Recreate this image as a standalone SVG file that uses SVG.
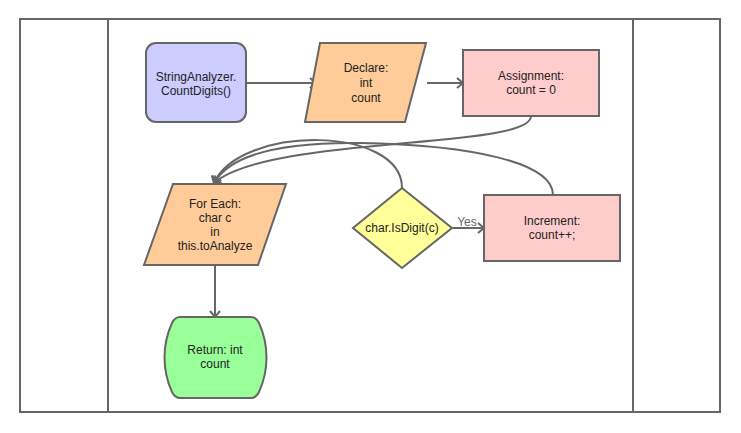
<svg xmlns="http://www.w3.org/2000/svg" width="741" height="433" viewBox="0 0 741 433">
<defs>
<marker id="arr" markerWidth="12" markerHeight="12" refX="9" refY="6" orient="auto" markerUnits="userSpaceOnUse">
<polyline points="3,1 9,6 3,11" fill="none" stroke="#666" stroke-width="2"/>
</marker>
<style>
.n{stroke:#666;stroke-width:2}
.t{font-family:"Liberation Sans",Arial,sans-serif;font-size:12px;fill:#222;text-anchor:middle}
.c{fill:none;stroke:#666;stroke-width:2}
</style>
</defs>
<rect width="741" height="433" fill="#fff"/>
<g id="lanes" fill="none" stroke="#666" stroke-width="2">
<rect x="20" y="19" width="700" height="393"/>
<line x1="108" y1="19" x2="108" y2="412"/>
<line x1="633" y1="19" x2="633" y2="412"/>
</g>
<g id="connectors">
<line class="c" x1="246" y1="83" x2="316" y2="83" marker-end="url(#arr)"/>
<line class="c" x1="427" y1="83" x2="463" y2="83" marker-end="url(#arr)"/>
<path class="c" d="M531,116 C531,150 270,135 214,183" marker-end="url(#arr)"/>
<path class="c" d="M402,188 C402,125 240,125 214,183" marker-end="url(#arr)"/>
<path class="c" d="M553,195 C553,162 470,145 360,143 C280,142 230,155 214,183" marker-end="url(#arr)"/>
<line class="c" x1="453" y1="228" x2="484" y2="228" marker-end="url(#arr)"/>
<text x="467" y="226" style="font-family:'Liberation Sans',Arial,sans-serif;font-size:12px;fill:#666;text-anchor:middle">Yes</text>
<line class="c" x1="215" y1="265" x2="215" y2="317" marker-end="url(#arr)"/>
</g>
<g id="start">
<rect class="n" x="146" y="43" width="100" height="79" rx="10" fill="#ccccff"/>
<text class="t" x="196" y="81">StringAnalyzer.</text>
<text class="t" x="196" y="95">CountDigits()</text>
</g>
<g id="declare">
<polygon class="n" points="320,43 426,43 405,122 305,122" fill="#ffcc99"/>
<text class="t" x="366" y="72">Declare:</text>
<text class="t" x="366" y="87">int</text>
<text class="t" x="366" y="102">count</text>
</g>
<g id="assign">
<rect class="n" x="463" y="50" width="136" height="66" fill="#ffcccc"/>
<text class="t" x="531" y="80">Assignment:</text>
<text class="t" x="531" y="94">count = 0</text>
</g>
<g id="foreach">
<polygon class="n" points="173,184 286,184 258,265 144,265" fill="#ffcc99"/>
<text class="t" x="215" y="208">For Each:</text>
<text class="t" x="215" y="222">char c</text>
<text class="t" x="215" y="236">in</text>
<text class="t" x="215" y="250">this.toAnalyze</text>
</g>
<g id="return">
<path class="n" d="M180,317 L251,317 Q256,317 259,323 C269,345 269,370 259,392 Q256,398 251,398 L180,398 Q175,398 172,392 C162,370 162,345 172,323 Q175,317 180,317 Z" fill="#99ff99"/>
<text class="t" x="215" y="354">Return: int</text>
<text class="t" x="215" y="368">count</text>
</g>
<g id="decision">
<polygon class="n" points="402,188 452,228 402,268 353,228" fill="#ffff99"/>
<text class="t" x="402" y="232">char.IsDigit(c)</text>
</g>
<g id="increment">
<rect class="n" x="484" y="195" width="136" height="66" fill="#ffcccc"/>
<text class="t" x="552" y="225">Increment:</text>
<text class="t" x="552" y="239">count++;</text>
</g>
</svg>
